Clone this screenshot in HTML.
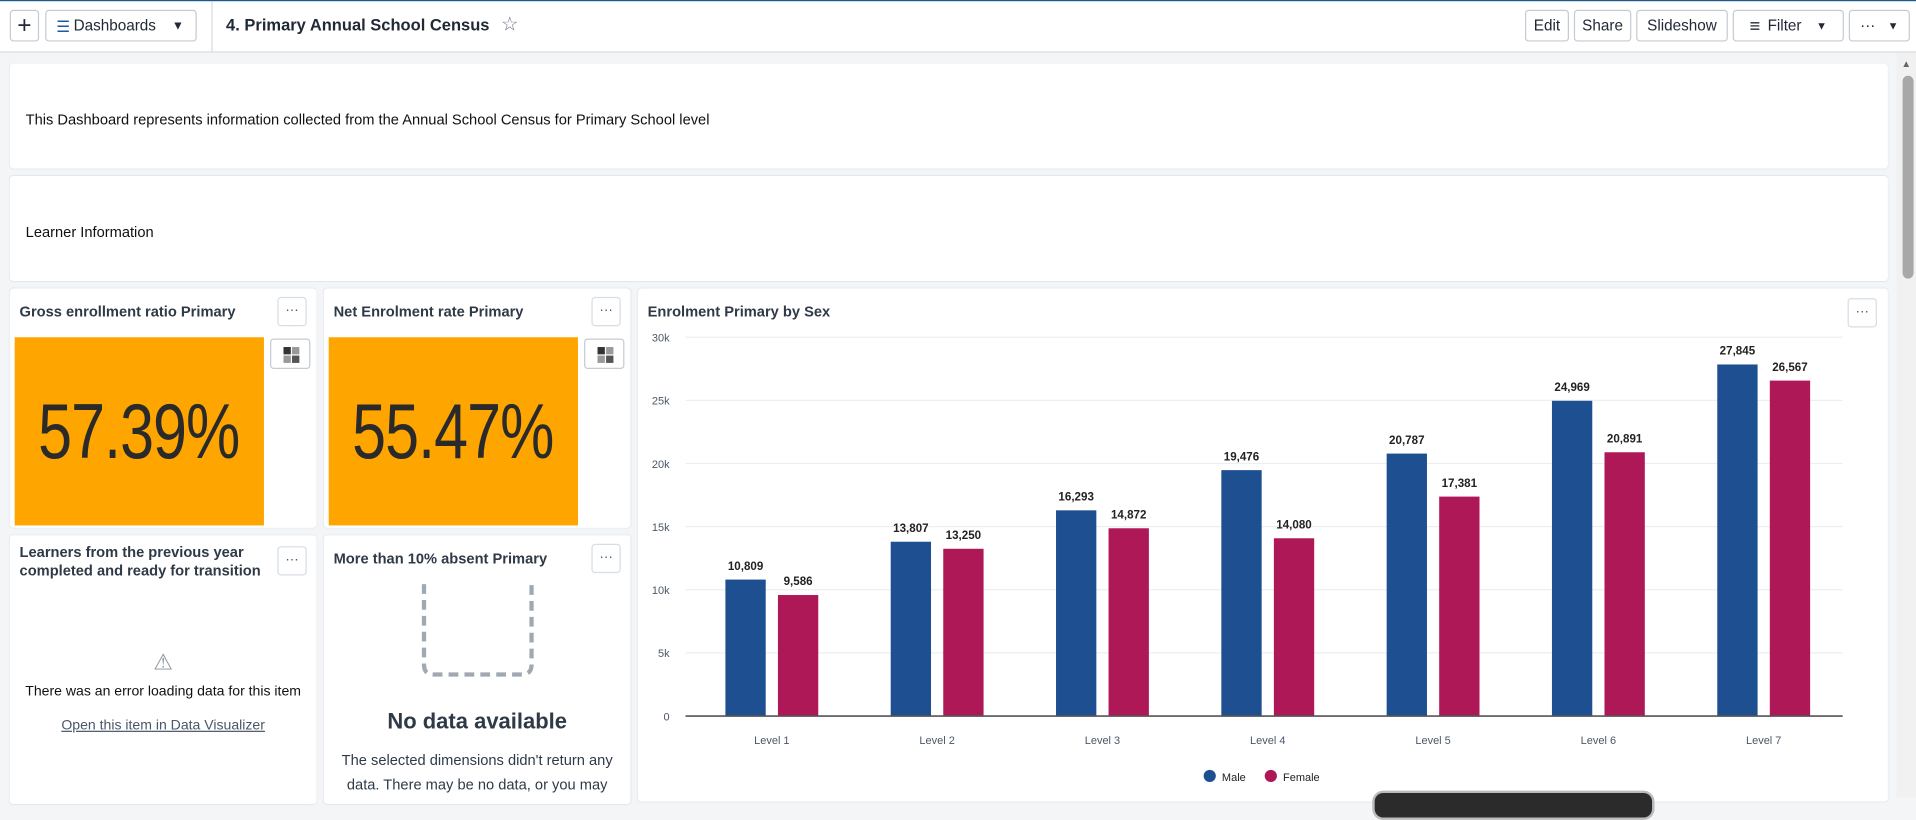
<!DOCTYPE html>
<html><head><meta charset="utf-8"><style>
html,body{margin:0;padding:0;width:1916px;height:797px;overflow:hidden;background:#f3f5f7;font-family:"Liberation Sans",sans-serif;}
#root{position:absolute;left:0;top:0;width:1568px;height:652px;transform:scale(1.22194);transform-origin:0 0;background:#f3f5f7;}
.abs{position:absolute;}
.btn{position:absolute;border:1px solid #c5cbd2;border-radius:3px;background:#fff;font-size:12.5px;color:#212934;box-sizing:border-box;display:flex;align-items:center;justify-content:center;}
.card{position:absolute;background:#fff;border-radius:3px;box-shadow:0 0 1px #d5dde5;}
.ttl{position:absolute;font-size:12px;font-weight:bold;color:#2f3a47;line-height:15px;}
.dots{position:absolute;width:24px;height:24px;border:1px solid #d5dde5;border-radius:3px;box-sizing:border-box;font-size:11px;color:#4a5768;text-align:center;line-height:20px;background:#fff;}
.big{position:absolute;background:#ffa500;display:flex;align-items:center;justify-content:center;}
.big span{font-size:64px;color:#2a2a2a;transform:scaleX(0.78);display:inline-block;letter-spacing:-1px;}
.sec{position:absolute;width:33px;height:25px;border:1px solid #c5cbd2;border-radius:3px;box-sizing:border-box;background:#fff;}
.sec i{position:absolute;width:6px;height:6px;}
</style></head><body>
<div id="root">
<div class="abs" style="left:0;top:0;width:1568px;height:43px;background:#fff;border-bottom:1px solid #d5dde5;border-top:1px solid #1d5a8e;box-sizing:border-box;"></div>
<div class="abs" style="left:173px;top:1px;width:1px;height:41px;background:#d5dde5;"></div>
<div class="btn" style="left:8px;top:8px;width:24px;height:26px;font-size:20px;">+</div>
<div class="btn" style="left:37px;top:8px;width:124px;height:26px;justify-content:flex-start;padding-left:8px;"><span style="color:#1d5a9e;margin-right:3px">☰</span>Dashboards<span style="margin-left:13px;font-size:10px">▼</span></div>
<div class="abs" style="left:185px;top:13px;font-size:13.5px;font-weight:bold;color:#212934;">4. Primary Annual School Census</div>
<div class="abs" style="left:410px;top:10px;font-size:16px;color:#6b7785;">☆</div>
<div class="btn" style="left:1248px;top:8px;width:36px;height:26px;">Edit</div>
<div class="btn" style="left:1288px;top:8px;width:47px;height:26px;">Share</div>
<div class="btn" style="left:1339px;top:8px;width:75px;height:26px;">Slideshow</div>
<div class="btn" style="left:1418px;top:8px;width:91px;height:26px;"><span style="font-size:15px;margin-right:6px">≡</span>Filter<span style="margin-left:12px;font-size:9px">▼</span></div>
<div class="btn" style="left:1513px;top:8px;width:50px;height:26px;">···<span style="margin-left:10px;font-size:9px">▼</span></div>

<div class="abs" style="left:1552px;top:43px;width:16px;height:609px;background:#f1f1f1;"></div>
<div class="abs" style="left:1556px;top:48px;font-size:8px;color:#666;">▲</div>
<div class="abs" style="left:1557px;top:62px;width:9px;height:166px;background:#a8a8a8;border-radius:5px;"></div>

<div class="card" style="left:8px;top:52px;width:1537px;height:86px;"><div class="abs" style="left:13px;top:39px;font-size:12px;color:#111;">This Dashboard represents information collected from the Annual School Census for Primary School level</div></div>
<div class="card" style="left:8px;top:144px;width:1537px;height:86px;"><div class="abs" style="left:13px;top:39px;font-size:12px;color:#111;">Learner Information</div></div>

<div class="card" style="left:8px;top:236px;width:251px;height:196px;">
<div class="ttl" style="left:8px;top:12px;">Gross enrollment ratio Primary</div>
<div class="dots" style="left:219px;top:7px;">···</div>
<div class="big" style="left:4px;top:40px;width:204px;height:154px;"><span>57.39%</span></div>
<div class="sec" style="left:213px;top:41px;"><i style="left:10px;top:6px;background:#333"></i><i style="left:17px;top:6px;background:#999"></i><i style="left:10px;top:13px;background:#999"></i><i style="left:17px;top:13px;background:#555"></i></div>
</div>
<div class="card" style="left:265px;top:236px;width:251px;height:196px;">
<div class="ttl" style="left:8px;top:12px;">Net Enrolment rate Primary</div>
<div class="dots" style="left:219px;top:7px;">···</div>
<div class="big" style="left:4px;top:40px;width:204px;height:154px;"><span>55.47%</span></div>
<div class="sec" style="left:213px;top:41px;"><i style="left:10px;top:6px;background:#333"></i><i style="left:17px;top:6px;background:#999"></i><i style="left:10px;top:13px;background:#999"></i><i style="left:17px;top:13px;background:#555"></i></div>
</div>
<div class="card" style="left:8px;top:438px;width:251px;height:220px;">
<div class="ttl" style="left:8px;top:7px;width:210px;">Learners from the previous year completed and ready for transition</div>
<div class="dots" style="left:219px;top:9px;">···</div>
<div class="abs" style="left:0;top:94px;width:251px;text-align:center;font-size:18px;color:#8a939e;">⚠</div>
<div class="abs" style="left:0;top:122px;width:251px;text-align:center;font-size:11.5px;color:#111;">There was an error loading data for this item</div>
<div class="abs" style="left:0;top:150px;width:251px;text-align:center;font-size:11.5px;color:#4a5768;text-decoration:underline;">Open this item in Data Visualizer</div>
</div>
<div class="card" style="left:265px;top:438px;width:251px;height:220px;">
<div class="ttl" style="left:8px;top:12px;">More than 10% absent Primary</div>
<div class="dots" style="left:219px;top:7px;">···</div>
<svg class="abs" style="left:78px;top:38px" width="100" height="82"><path d="M4 2 V68 Q4 76 12 76 H84 Q92 76 92 68 V2" fill="none" stroke="#a0a8b2" stroke-width="3.5" stroke-dasharray="8 5"/></svg>
<div class="abs" style="left:0;top:142px;width:251px;text-align:center;font-size:18px;font-weight:bold;color:#2f3a47;">No data available</div>
<div class="abs" style="left:4px;top:174px;width:243px;text-align:center;font-size:12px;line-height:20px;color:#2f3a47;">The selected dimensions didn't return any data. There may be no data, or you may</div>
</div>

<div class="card" style="left:522px;top:236px;width:1023px;height:420px;">
<div class="ttl" style="left:8px;top:12px;">Enrolment Primary by Sex</div>
<div class="dots" style="left:990px;top:8px;">···</div>
</div>
<svg id="chart" class="abs" style="left:522px;top:236px" width="1023" height="420"></svg>
<div class="abs" style="left:1123px;top:647px;width:227px;height:20px;background:#2b2b2b;border-radius:9px;border:2px solid #bbb;"></div>
</div>
<script>
const categories=["Level 1","Level 2","Level 3","Level 4","Level 5","Level 6","Level 7"];
const male=[10809,13807,16293,19476,20787,24969,27845];
const female=[9586,13250,14872,14080,17381,20891,26567];
const ticks=[0,5000,10000,15000,20000,25000,30000];
const tickLabels=["0","5k","10k","15k","20k","25k","30k"];
const NS="http://www.w3.org/2000/svg";
const svg=document.getElementById('chart');
const x0=39,x1=986,y0=350,yTop=40,ymax=30000;
const y=v=>y0-(v/ymax)*(y0-yTop);
const band=(x1-x0)/categories.length;
const cx=i=>x0+band*(i+0.5)+3;
function el(t,a){const e=document.createElementNS(NS,t);for(const k in a)e.setAttribute(k,a[k]);svg.appendChild(e);return e;}
ticks.forEach((t,i)=>{
 if(i>0){const g=el('line',{x1:x0,x2:x1,y1:y(t),y2:y(t),stroke:'#eceff2'});
 
 }
 const l=el('text',{x:26,y:y(t)+3.5,'text-anchor':'end','font-size':'9','fill':'#4a5768','font-family':'Liberation Sans'});
 l.textContent=tickLabels[i];
 
 
});
function series(vals,color,off,name){
 vals.forEach((v,i)=>{
  const r=el('rect',{x:cx(i)+off,y:y(v),width:33,height:y0-y(v),fill:color});
  
  
  const t=el('text',{x:cx(i)+off+16.5,y:y(v)-8,'text-anchor':'middle','font-size':'9.5','font-weight':'bold',fill:'#222','font-family':'Liberation Sans'});
  t.textContent=v.toLocaleString('en-US');
  
  
 });
}
series(male,'#1d4f91',-38,'male');
series(female,'#ae1857',5,'female');
const ax=el('line',{x1:x0,x2:x1,y1:y0,y2:y0,stroke:'#555','stroke-width':1.3});


categories.forEach((c,i)=>{
 const t=el('text',{x:cx(i),y:373,'text-anchor':'middle','font-size':'9','fill':'#4a5768','font-family':'Liberation Sans'});
 t.textContent=c;
 
 
});
[['Male','#1d4f91',468],['Female','#ae1857',518]].forEach(([n,c,lx])=>{
 const d=el('circle',{cx:lx,cy:399,r:5,fill:c});
 
 
 const t=el('text',{x:lx+10,y:403,'font-size':'9','fill':'#222','font-family':'Liberation Sans'});
 t.textContent=n;
 
 
});
</script>
</body></html>
